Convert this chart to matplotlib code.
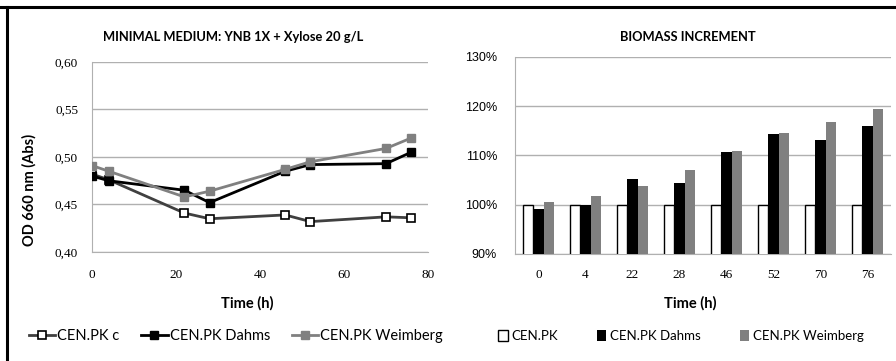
import matplotlib
matplotlib.use("Agg")
import matplotlib.pyplot as plt
import numpy as np
from matplotlib.lines import Line2D
from matplotlib.ticker import FuncFormatter

# Growth curves: optical density over time
time_h = [0, 4, 22, 28, 46, 52, 70, 76]
od_control = [0.482, 0.476, 0.441, 0.435, 0.439, 0.432, 0.437, 0.436]
od_dahms = [0.480, 0.475, 0.465, 0.452, 0.485, 0.492, 0.493, 0.505]
od_weimberg = [0.491, 0.485, 0.458, 0.464, 0.487, 0.495, 0.509, 0.520]

# Biomass increment relative to the control strain (%)
time_labels = ["0", "4", "22", "28", "46", "52", "70", "76"]
inc_control = [100, 100, 100, 100, 100, 100, 100, 100]
inc_dahms = [99.2, 100.0, 105.2, 104.4, 110.7, 114.3, 113.1, 116.0]
inc_weimberg = [100.6, 101.7, 103.9, 107.0, 111.0, 114.6, 116.9, 119.4]

SANS = "Lato"
SERIF = "Liberation Serif"
GRID = "#b0b0b0"
GRAY = "#808080"

W, H = 896, 361
fig = plt.figure(figsize=(W / 100, H / 100), dpi=100)
fig.patch.set_facecolor("white")


def fx(px):
    return px / W


def fy(py):
    return 1 - py / H


# ---- Left panel: OD curves ----
ax1 = fig.add_axes([fx(92), fy(252), 336 / W, 190 / H])
ax1.plot(time_h, od_control, color="#404040", lw=2, marker="s", ms=6,
         mfc="white", mec="black", mew=1.2, label="CEN.PK c", zorder=3)
ax1.plot(time_h, od_dahms, color="black", lw=2, marker="s", ms=6,
         mfc="black", mec="black", label="CEN.PK Dahms", zorder=4)
ax1.plot(time_h, od_weimberg, color=GRAY, lw=2, marker="s", ms=6,
         mfc=GRAY, mec=GRAY, label="CEN.PK Weimberg", zorder=5)
ax1.set_xlim(0, 80)
ax1.set_ylim(0.40, 0.60)
ax1.set_xticks([0, 20, 40, 60, 80])
ax1.set_yticks([0.40, 0.45, 0.50, 0.55, 0.60])
ax1.yaxis.set_major_formatter(FuncFormatter(lambda v, p: f"{v:.2f}".replace(".", ",")))
ax1.grid(axis="y", color=GRID, lw=1)
ax1.set_axisbelow(True)
for s in ("top", "right"):
    ax1.spines[s].set_visible(False)
for s in ("left", "bottom"):
    ax1.spines[s].set_color(GRID)
ax1.tick_params(length=0)
ax1.tick_params(axis="x", pad=12)
ax1.tick_params(axis="y", pad=10)
for lab in ax1.get_xticklabels() + ax1.get_yticklabels():
    lab.set_fontfamily(SERIF)
    lab.set_fontsize(9.5)
ax1.set_ylabel("OD 660 nm (Abs)", fontsize=10.5, fontweight="bold", family=SANS)
ax1.yaxis.set_label_coords((37 - 92) / 336, (252 - 190) / 190)
ax1.legend(loc="center", bbox_to_anchor=((236 - 92) / 336, (252 - 336) / 190), ncol=3,
           frameon=False, prop={"family": SANS, "size": 10.5}, handlelength=1.8,
           handletextpad=0.15, columnspacing=1.5, markerscale=0.9)

fig.text(fx(233), fy(37), "MINIMAL MEDIUM: YNB 1X + Xylose 20 g/L", fontsize=9.3,
         fontweight="bold", family=SANS, ha="center", va="center")
fig.text(fx(247), fy(303), "Time (h)", fontsize=10.5, fontweight="bold", family=SANS,
         ha="center", va="center")

# ---- Right panel: biomass increment bars ----
ax2 = fig.add_axes([fx(515), fy(254), 376 / W, 197 / H])
x = np.arange(len(time_labels))
w = 0.222
ax2.bar(x - w, inc_control, w, color="white", edgecolor="black", lw=1,
        label="CEN.PK", zorder=3)
ax2.bar(x, inc_dahms, w, color="black", label="CEN.PK Dahms", zorder=3)
ax2.bar(x + w, inc_weimberg, w, color=GRAY, label="CEN.PK Weimberg", zorder=3)
ax2.set_xlim(-0.5, len(time_labels) - 0.5)
ax2.set_ylim(90, 130)
ax2.set_yticks([90, 100, 110, 120, 130])
ax2.yaxis.set_major_formatter(FuncFormatter(lambda v, p: f"{v:.0f}%"))
ax2.set_xticks(x)
ax2.set_xticklabels(time_labels)
ax2.grid(axis="y", color=GRID, lw=1)
ax2.set_axisbelow(True)
for s in ("top", "right"):
    ax2.spines[s].set_visible(False)
for s in ("left", "bottom"):
    ax2.spines[s].set_color(GRID)
ax2.tick_params(length=0)
ax2.tick_params(axis="x", pad=11)
ax2.tick_params(axis="y", pad=13)
for lab in ax2.get_xticklabels():
    lab.set_fontfamily(SERIF)
    lab.set_fontsize(9.5)
for lab in ax2.get_yticklabels():
    lab.set_fontfamily("Liberation Sans")
    lab.set_fontsize(9)
ax2.legend(loc="center", bbox_to_anchor=((681 - 515) / 376, (254 - 336) / 197), ncol=3,
           frameon=False, prop={"family": SANS, "size": 9.5}, handlelength=0.7,
           handleheight=0.9, handletextpad=0.25, columnspacing=3.0)

fig.text(fx(688), fy(37), "BIOMASS INCREMENT", fontsize=9.3, fontweight="bold",
         family=SANS, ha="center", va="center")
fig.text(fx(690), fy(303), "Time (h)", fontsize=10.5, fontweight="bold", family=SANS,
         ha="center", va="center")

# Frame lines along the top and left edges
fig.add_artist(Line2D([0, 1], [fy(7), fy(7)], color="black", lw=2.2,
                      transform=fig.transFigure))
fig.add_artist(Line2D([fx(7), fx(7)], [0, fy(7)], color="black", lw=2.2,
                      transform=fig.transFigure))

fig.savefig("out.png", dpi=100, facecolor="white")
